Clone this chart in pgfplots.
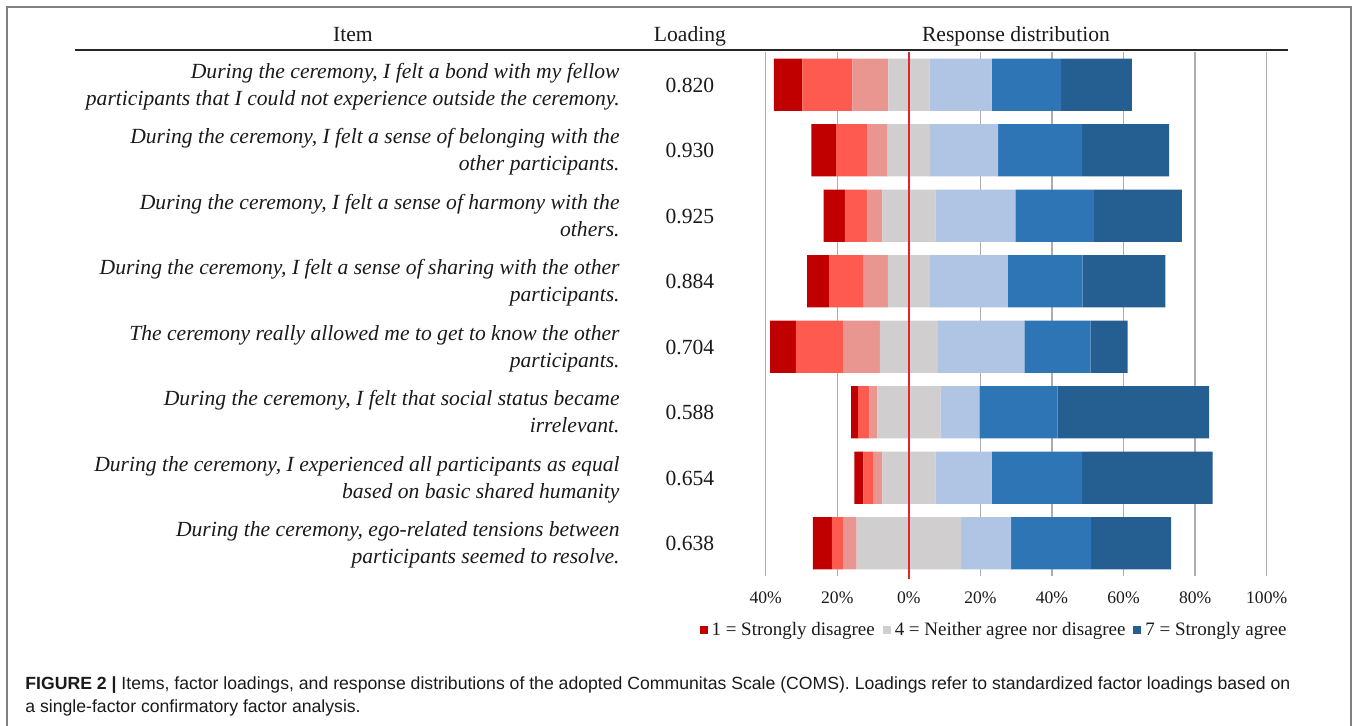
\documentclass[border=0pt]{standalone}
\usepackage{fontspec}
\setmainfont{Liberation Serif}
\newfontfamily\capfont{Liberation Sans}
\usepackage{pgfplots}
\usepackage{pgfplotstable}
\pgfplotsset{compat=1.18}

\definecolor{c1}{HTML}{C00000}
\definecolor{c2}{HTML}{FF5A4F}
\definecolor{c3}{HTML}{E8968F}
\definecolor{c4}{HTML}{D0CECE}
\definecolor{c5}{HTML}{B0C4E4}
\definecolor{c6}{HTML}{2E75B6}
\definecolor{c7}{HTML}{255E91}
\definecolor{zero}{HTML}{E4262B}
\definecolor{txt}{HTML}{1A1A1A}

% share of answers 1..7 per item (%); y = row, item 1 on top
\pgfplotstableread{
y s1  s2   s3   s4   s5   s6   s7
8 8.0 14.0 10.0 11.5 17.4 19.3 19.9
7 6.9 8.8  5.6  11.9 19.0 23.5 24.3
6 5.9 6.3  4.2  14.8 22.4 21.9 24.6
5 6.2 9.5  6.9  11.7 21.8 20.9 23.1
4 7.2 13.2 10.3 16.2 24.2 18.5 10.3
3 1.9 3.2  2.2  17.6 10.9 21.9 42.3
2 2.5 2.7  2.6  14.8 15.7 25.3 36.5
1 5.3 3.1  3.8  29.2 14.0 22.3 22.4
}\coms

\newcommand\itemfont{\fontsize{10.8bp}{13.5bp}\selectfont\itshape\color{txt}}
\newcommand\numfont{\fontsize{10.8bp}{13.5bp}\selectfont\color{txt}}
\newcommand\itemrow[4]{%
  \pgfmathsetmacro\yc{52+65.5*(#1-0.5)}
  \node[anchor=base east,inner sep=0,font=\itemfont] at (620,\yc-6.5) {#2};
  \node[anchor=base east,inner sep=0,font=\itemfont] at (620,\yc+20.5) {#3};
  \node[anchor=base,inner sep=0,font=\numfont] at (690,\yc+7.5) {#4};}

\pgfplotsset{
  sqleg/.style={legend image code/.code={\fill[##1] (0bp,-2bp) rectangle (4bp,2bp);}},
  divbox/.style={
    at={(382.85bp,-288bp)}, anchor=south west,
    scale only axis, width=250.5bp, height=262bp,
    xmin=-40, xmax=100, ymin=0.5, ymax=8.5},
}

\begin{document}
\begin{tikzpicture}
\useasboundingbox (0,0) rectangle (678bp,-363bp);

\begin{scope}[x=0.5bp,y=-0.5bp]
  \draw[line width=1bp,black!50] (7,730) -- (7,7) -- (1351,7) -- (1351,730);
  \node[anchor=base,inner sep=0,font=\numfont] at (353,41.5) {Item};
  \node[anchor=base,inner sep=0,font=\numfont] at (690,41.5) {Loading};
  \node[anchor=base,inner sep=0,font=\numfont] at (1016,41.5) {Response distribution};
  \itemrow{1}{During the ceremony, I felt a bond with my fellow}{participants that I could not experience outside the ceremony.}{0.820}
  \itemrow{2}{During the ceremony, I felt a sense of belonging with the}{other participants.}{0.930}
  \itemrow{3}{During the ceremony, I felt a sense of harmony with the}{others.}{0.925}
  \itemrow{4}{During the ceremony, I felt a sense of sharing with the other}{participants.}{0.884}
  \itemrow{5}{The ceremony really allowed me to get to know the other}{participants.}{0.704}
  \itemrow{6}{During the ceremony, I felt that social status became}{irrelevant.}{0.588}
  \itemrow{7}{During the ceremony, I experienced all participants as equal}{based on basic shared humanity}{0.654}
  \itemrow{8}{During the ceremony, ego-related tensions between}{participants seemed to resolve.}{0.638}
  \node[anchor=base west,inner sep=0,font=\capfont\fontsize{8.82bp}{11bp}\selectfont\color{txt}] at (25,690)
    {\textbf{FIGURE 2 |} Items, factor loadings, and response distributions of the adopted Communitas Scale (COMS). Loadings refer to standardized factor loadings based on};
  \node[anchor=base west,inner sep=0,font=\capfont\fontsize{8.82bp}{11bp}\selectfont\color{txt}] at (25,713)
    {a single-factor confirmatory factor analysis.};
\end{scope}

% left half: disagreement and half of the neutral answer, stacked leftwards from 0
\begin{axis}[divbox,
  xbar stacked, bar width=0.8,
  axis line style={draw=none},
  major tick length=0,
  ytick=\empty,
  xtick={-40,-20,0,20,40,60,80,100},
  xticklabels={40\%,20\%,0\%,20\%,40\%,60\%,80\%,100\%},
  xticklabel style={font=\fontsize{8.8bp}{10bp}\selectfont\color{txt}, anchor=center, yshift=-11bp},
  xmajorgrids, grid style={line width=0.75bp, black!32},
  legend columns=3,
  legend style={at={(0.4577,-0.103)}, anchor=center, draw=none, fill=none,
    font=\fontsize{9.5bp}{10bp}\selectfont\color{txt},
    nodes={inner xsep=2bp},
    /tikz/every even column/.append style={column sep=2bp}},
  legend cell align=left,
]
\addlegendimage{sqleg, fill=c1, draw=none}
\addlegendentry{1 = Strongly disagree}
\addlegendimage{sqleg, fill=c4, draw=none}
\addlegendentry{4 = Neither agree nor disagree}
\addlegendimage{sqleg, fill=c7, draw=none}
\addlegendentry{7 = Strongly agree}

\addplot[draw=none, fill=c4] table[x expr=-\thisrow{s4}/2, y=y] {\coms};
\addplot[draw=none, fill=c3] table[x expr=-\thisrow{s3}, y=y] {\coms};
\addplot[draw=none, fill=c2] table[x expr=-\thisrow{s2}, y=y] {\coms};
\addplot[draw=none, fill=c1] table[x expr=-\thisrow{s1}, y=y] {\coms};
\end{axis}

% right half: other half of the neutral answer and agreement, stacked rightwards from 0
\begin{axis}[divbox, hide axis, xbar stacked, bar width=0.8]
\addplot[draw=none, fill=c4] table[x expr=\thisrow{s4}/2, y=y] {\coms};
\addplot[draw=none, fill=c5] table[x=s5, y=y] {\coms};
\addplot[draw=none, fill=c6] table[x=s6, y=y] {\coms};
\addplot[draw=none, fill=c7] table[x=s7, y=y] {\coms};
\end{axis}

% zero line on top of the bars
\begin{axis}[divbox, hide axis, clip=false]
\addplot[zero, line width=1bp, mark=none] coordinates {(0,0.45) (0,8.5)};
\end{axis}

\draw[line width=1.3bp, black!85] (37.5bp,-25bp) -- (644bp,-25bp);
\end{tikzpicture}
\end{document}
